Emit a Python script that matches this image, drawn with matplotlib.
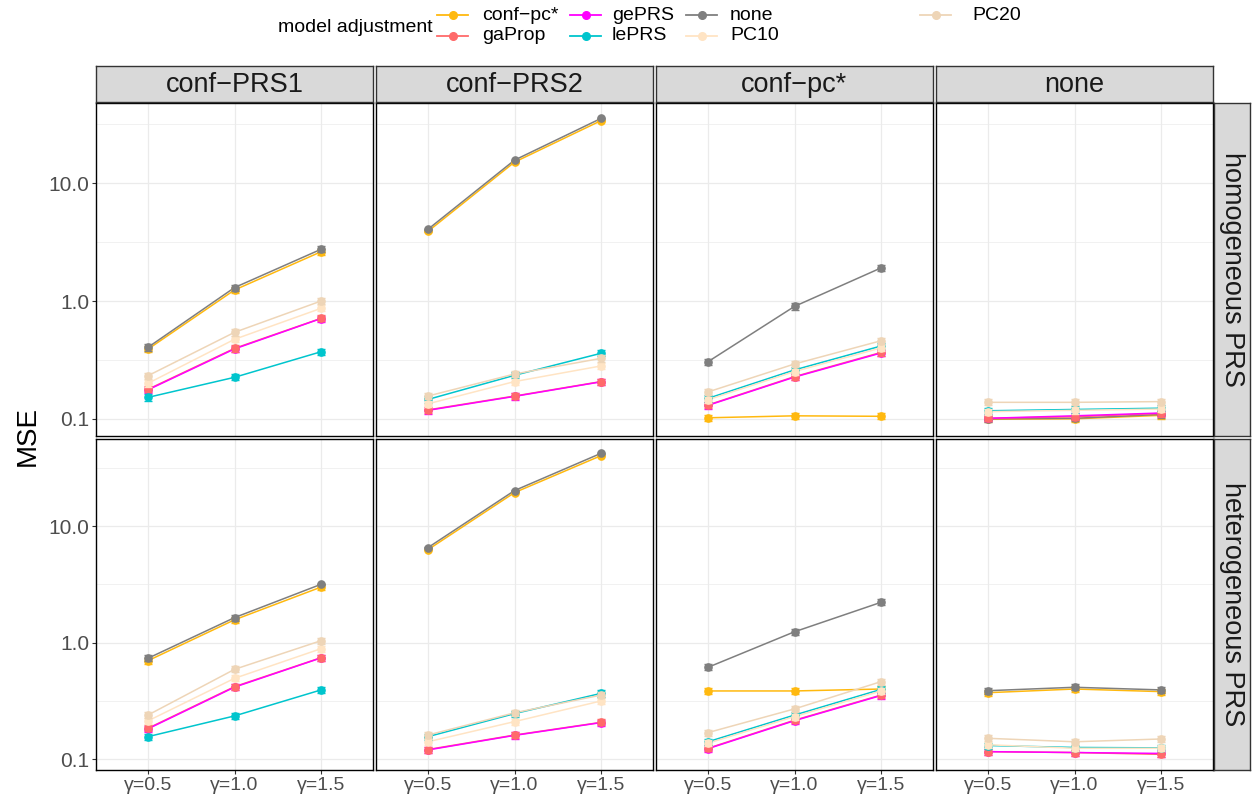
import matplotlib
matplotlib.use("Agg")
import matplotlib.pyplot as plt
from matplotlib.lines import Line2D
import numpy as np

plt.rcParams['font.family'] = ['Liberation Sans', 'DejaVu Sans']

# ---------------- data ----------------
SERIES = ["conf−pc*", "gaProp", "gePRS", "lePRS", "none", "PC10", "PC20"]
COLORS = {"conf−pc*": "#FFB90F", "gaProp": "#FF6A6A", "gePRS": "#FF00FF",
          "lePRS": "#00C5CD", "none": "#7F7F7F", "PC10": "#FFE4C4", "PC20": "#EED5B7"}
GAMMA_LABELS = ["γ=0.5", "γ=1.0", "γ=1.5"]
COL_LABELS = ["conf−PRS1", "conf−PRS2", "conf−pc*", "none"]
ROW_LABELS = ["homogeneous PRS", "heterogeneous PRS"]

hom_conf_prs1 = {"conf−pc*": [0.39, 1.24, 2.62], "gaProp": [0.178, 0.396, 0.713],
                 "gePRS": [0.176, 0.392, 0.71], "lePRS": [0.152, 0.225, 0.371],
                 "none": [0.404, 1.30, 2.75], "PC10": [0.20, 0.473, 0.867],
                 "PC20": [0.232, 0.542, 1.0]}
hom_conf_prs2 = {"conf−pc*": [3.90, 15.1, 34.0], "gaProp": [0.119, 0.156, 0.207],
                 "gePRS": [0.118, 0.155, 0.206], "lePRS": [0.146, 0.234, 0.36],
                 "none": [4.06, 15.7, 35.5], "PC10": [0.134, 0.207, 0.281],
                 "PC20": [0.156, 0.240, 0.326]}
hom_conf_pc = {"conf−pc*": [0.102, 0.106, 0.105], "gaProp": [0.131, 0.228, 0.366],
               "gePRS": [0.130, 0.226, 0.362], "lePRS": [0.149, 0.26, 0.415],
               "none": [0.305, 0.90, 1.91], "PC10": [0.145, 0.252, 0.40],
               "PC20": [0.169, 0.292, 0.46]}
hom_none = {"conf−pc*": [0.099, 0.100, 0.107], "gaProp": [0.101, 0.104, 0.111],
            "gePRS": [0.101, 0.106, 0.112], "lePRS": [0.117, 0.120, 0.123],
            "none": [0.100, 0.101, 0.109], "PC10": [0.115, 0.118, 0.121],
            "PC20": [0.138, 0.138, 0.140]}
het_conf_prs1 = {"conf−pc*": [0.70, 1.57, 3.0], "gaProp": [0.184, 0.419, 0.743],
                 "gePRS": [0.182, 0.415, 0.74], "lePRS": [0.156, 0.235, 0.393],
                 "none": [0.734, 1.64, 3.17], "PC10": [0.213, 0.494, 0.888],
                 "PC20": [0.239, 0.59, 1.04]}
het_conf_prs2 = {"conf−pc*": [6.28, 19.4, 40.3], "gaProp": [0.121, 0.161, 0.207],
                 "gePRS": [0.120, 0.160, 0.206], "lePRS": [0.156, 0.246, 0.367],
                 "none": [6.54, 20.2, 42.2], "PC10": [0.141, 0.21, 0.316],
                 "PC20": [0.161, 0.250, 0.355]}
het_conf_pc = {"conf−pc*": [0.385, 0.385, 0.40], "gaProp": [0.124, 0.216, 0.355],
               "gePRS": [0.123, 0.214, 0.352], "lePRS": [0.141, 0.239, 0.397],
               "none": [0.614, 1.24, 2.22], "PC10": [0.137, 0.232, 0.385],
               "PC20": [0.169, 0.27, 0.463]}
het_none = {"conf−pc*": [0.372, 0.40, 0.38], "gaProp": [0.116, 0.114, 0.110],
            "gePRS": [0.116, 0.114, 0.112], "lePRS": [0.131, 0.126, 0.125],
            "none": [0.387, 0.414, 0.393], "PC10": [0.133, 0.124, 0.124],
            "PC20": [0.151, 0.141, 0.149]}

PANELS = [[hom_conf_prs1, hom_conf_prs2, hom_conf_pc, hom_none],
          [het_conf_prs1, het_conf_prs2, het_conf_pc, het_none]]
ERR_REL = 0.06        # relative standard-error bar half-width
ERR_REL_LARGE = 0.012  # for large MSE values

# ---------------- layout ----------------
W, H = 1253, 798
fig = plt.figure(figsize=(W / 100, H / 100), dpi=100)


def fbox(x0, y0, x1, y1):
    return [x0 / W, 1 - y1 / H, (x1 - x0) / W, (y1 - y0) / H]


col_x = [(96, 373), (376, 653), (656, 933), (936, 1213)]
row_y = [(103, 436), (439, 770)]
row_ylim = [(10 ** -1.146, 10 ** 1.681), (10 ** -1.093, 10 ** 1.748)]
strip_y = (66, 102)
rstrip_x = (1214, 1250)

GRID = "#EBEBEB"
line_order = ["conf−pc*", "none", "gaProp", "gePRS", "lePRS", "PC10", "PC20"]
point_order = ["conf−pc*", "none", "gePRS", "gaProp", "lePRS", "PC10", "PC20"]

for r in range(2):
    for c in range(4):
        ax = fig.add_axes(fbox(col_x[c][0], row_y[r][0], col_x[c][1], row_y[r][1]))
        ax.set_yscale("log")
        ax.set_ylim(*row_ylim[r])
        ax.set_xlim(-0.6, 2.6)
        x = np.arange(3)
        data = PANELS[r][c]
        # gridlines
        for gy in [0.1, 1, 10]:
            ax.axhline(gy, color=GRID, lw=0.9, zorder=0)
        for gy in [10 ** -0.5, 10 ** 0.5, 10 ** 1.5]:
            ax.axhline(gy, color=GRID, lw=0.5, zorder=0)
        for gx in x:
            ax.axvline(gx, color=GRID, lw=0.9, zorder=0)
        for i, s in enumerate(line_order):
            ax.plot(x, data[s], color=COLORS[s], lw=1.1, zorder=2 + i * 0.01)
        for i, s in enumerate(point_order):
            vals = np.array(data[s])
            rel = np.where(vals > 3, ERR_REL_LARGE, ERR_REL)
            err = vals * rel
            ax.errorbar(x, vals, yerr=err, fmt="none", ecolor=COLORS[s], elinewidth=1.0,
                        capsize=3, capthick=1.0, zorder=3 + i * 0.01)
            ax.plot(x, vals, "o", color=COLORS[s], ms=5.2, mec=COLORS[s], zorder=3.005 + i * 0.01)
        for sp in ax.spines.values():
            sp.set_color("black")
            sp.set_linewidth(1.0)
        ax.minorticks_off()
        ax.set_yticks([0.1, 1, 10])
        ax.set_xticks(x)
        if c == 0:
            ax.set_yticklabels(["0.1", "1.0", "10.0"], fontsize=15, color="#4D4D4D")
            ax.tick_params(axis="y", length=3, width=0.8, color="#333333", pad=2)
        else:
            ax.set_yticklabels([])
            ax.tick_params(axis="y", length=0)
        if r == 1:
            ax.set_xticklabels(GAMMA_LABELS, fontsize=14, color="#4D4D4D")
            ax.tick_params(axis="x", length=3, width=0.8, color="#333333", pad=2)
        else:
            ax.set_xticklabels([])
            ax.tick_params(axis="x", length=0)

# column strips
for c in range(4):
    sax = fig.add_axes(fbox(col_x[c][0], strip_y[0], col_x[c][1], strip_y[1]))
    sax.set_facecolor("#D9D9D9")
    sax.set_xticks([]); sax.set_yticks([])
    for sp in sax.spines.values():
        sp.set_color("#333333"); sp.set_linewidth(1.0)
    sax.text(0.5, 0.47, COL_LABELS[c], ha="center", va="center", fontsize=19.5,
             color="#1A1A1A", transform=sax.transAxes)

# row strips
for r in range(2):
    sax = fig.add_axes(fbox(rstrip_x[0], row_y[r][0], rstrip_x[1], row_y[r][1]))
    sax.set_facecolor("#D9D9D9")
    sax.set_xticks([]); sax.set_yticks([])
    for sp in sax.spines.values():
        sp.set_color("#333333"); sp.set_linewidth(1.0)
    sax.text(0.5, 0.5, ROW_LABELS[r], ha="center", va="center", fontsize=19.5,
             rotation=-90, color="#1A1A1A", transform=sax.transAxes)

# y-axis title
fig.text(28 / W, 1 - 436 / H, "MSE", rotation=90, ha="center", va="center", fontsize=20)

# legend (manual)
fig.text(278 / W, 1 - 27 / H, "model adjustment", ha="left", va="center", fontsize=14)
leg_cols = [(437, 468, 482), (570, 601, 612), (686, 717, 730), (920, 951, 972)]
leg_rows = [15, 36]
for i, s in enumerate(SERIES):
    ci, ri = i // 2, i % 2
    k0, k1, tx = leg_cols[ci]
    yy = 1 - leg_rows[ri] / H
    fig.add_artist(Line2D([k0 / W, k1 / W], [yy, yy], color=COLORS[s], lw=1.3))
    fig.add_artist(Line2D([(k0 + k1) / 2 / W], [yy], marker="o", ms=5.5,
                          color=COLORS[s], lw=0))
    fig.text(tx / W, yy, s, ha="left", va="center", fontsize=14)

fig.savefig("out.png", dpi=100, facecolor="white")
